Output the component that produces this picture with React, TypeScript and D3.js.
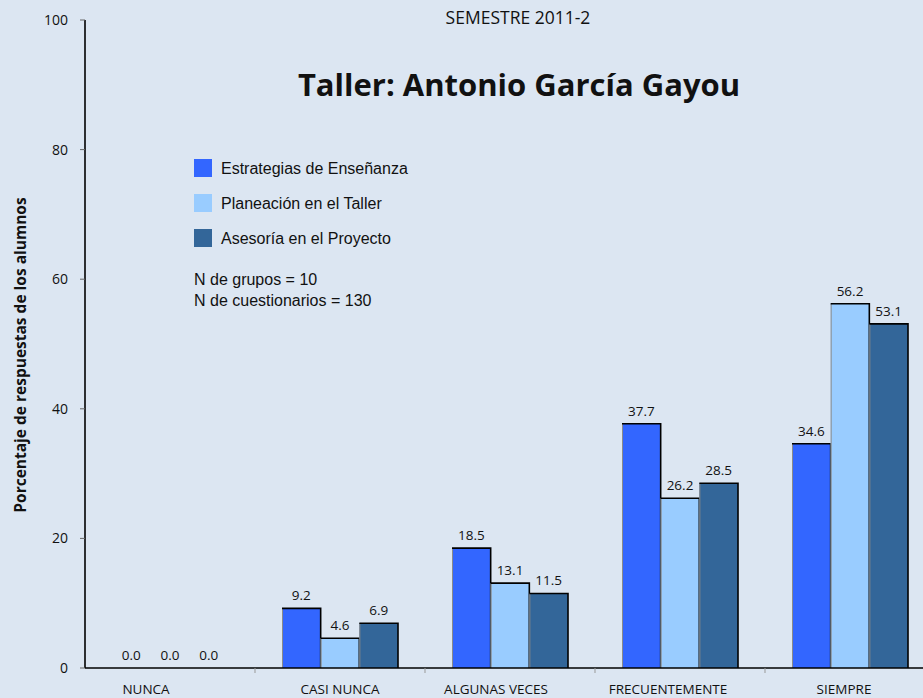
import React, { useEffect, useRef } from "react";
import * as d3 from "d3";

const categories = ["NUNCA", "CASI NUNCA", "ALGUNAS VECES", "FRECUENTEMENTE", "SIEMPRE"];
const seriesNames = ["Estrategias de Enseñanza", "Planeación en el Taller", "Asesoría en el Proyecto"];
const estrategias = [0.0, 9.2, 18.5, 37.7, 34.6];
const planeacion = [0.0, 4.6, 13.1, 26.2, 56.2];
const asesoria = [0.0, 6.9, 11.5, 28.5, 53.1];
const colors = ["#3366ff", "#99ccff", "#336699"];
const yTicks = [0, 20, 40, 60, 80, 100];

const W = 923, H = 698;

export default function App() {
  const ref = useRef<SVGSVGElement>(null);

  useEffect(() => {
    const svg = d3.select(ref.current);
    svg.selectAll("*").remove();
    const series = [estrategias, planeacion, asesoria];
    const margin = { left: 85, top: 20, bottom: 30 };

    svg.append("rect").attr("width", W).attr("height", H).attr("fill", "#dce6f2");

    const x = d3.scaleBand().domain(categories).range([margin.left, margin.left + 850]);
    const inner = d3.scaleBand().domain(["0", "1", "2"]).range([27, 143]);
    const y = d3.scaleLinear().domain([0, 100]).range([H - margin.bottom, margin.top]);

    // bars
    categories.forEach((c, ci) => {
      series.forEach((s, si) => {
        const v = s[ci];
        const x0 = x(c)! + inner(String(si))!;
        const bw = inner.bandwidth();
        const yt = y(v), yb = y(0);
        if (v > 0) {
          svg.append("rect").attr("x", x0).attr("y", yt).attr("width", bw).attr("height", yb - yt)
            .attr("fill", colors[si]);
          svg.append("line").attr("x1", x0 + 0.5).attr("x2", x0 + 0.5).attr("y1", yt).attr("y2", yb)
            .attr("stroke", "#8a8a8a").attr("stroke-width", 1);
          svg.append("path").attr("d", `M${x0},${yt}H${x0 + bw}V${yb}`)
            .attr("fill", "none").attr("stroke", "#000").attr("stroke-width", 1.6);
        }
        svg.append("text").attr("x", x0 + bw / 2).attr("y", yt - 8)
          .attr("text-anchor", "middle").attr("font-family", "Open Sans").attr("font-size", 13.5)
          .attr("fill", "#111").text(v.toFixed(1));
      });
    });

    // y axis
    svg.append("line").attr("x1", margin.left).attr("x2", margin.left)
      .attr("y1", y(100)).attr("y2", y(0)).attr("stroke", "#000").attr("stroke-width", 1.6);
    yTicks.forEach(t => {
      svg.append("line").attr("x1", margin.left - 5).attr("x2", margin.left)
        .attr("y1", y(t)).attr("y2", y(t)).attr("stroke", "#666").attr("stroke-width", 1);
      svg.append("text").attr("x", margin.left - 17).attr("y", y(t) + 5)
        .attr("text-anchor", "end").attr("font-family", "Open Sans").attr("font-size", 14)
        .attr("fill", "#111").text(t);
    });

    // x axis
    svg.append("line").attr("x1", margin.left).attr("x2", W)
      .attr("y1", y(0)).attr("y2", y(0)).attr("stroke", "#000").attr("stroke-width", 1.6);
    categories.forEach((c, i) => {
      svg.append("line").attr("x1", x(c)! + x.bandwidth()).attr("x2", x(c)! + x.bandwidth())
        .attr("y1", y(0)).attr("y2", y(0) + 5).attr("stroke", "#999");
      const offs = [-24, 0, -14, -12, -6];
      svg.append("text").attr("x", x(c)! + x.bandwidth() / 2 + offs[i]).attr("y", y(0) + 26)
        .attr("text-anchor", "middle").attr("font-family", "Open Sans").attr("font-size", 13.5)
        .attr("fill", "#111").text(c);
    });

    // y title
    svg.append("text").attr("transform", `translate(26,${(y(0) + y(100)) / 2 + 11}) rotate(-90)`)
      .attr("text-anchor", "middle").attr("font-family", "Open Sans").attr("font-weight", "bold")
      .attr("font-size", 15.5).attr("fill", "#111").text("Porcentaje de respuestas de los alumnos");

    // titles
    svg.append("text").attr("x", 518).attr("y", 24).attr("text-anchor", "middle")
      .attr("font-family", "Open Sans").attr("font-size", 17.5).attr("fill", "#111").text("SEMESTRE 2011-2");
    svg.append("text").attr("x", 519).attr("y", 96).attr("text-anchor", "middle")
      .attr("font-family", "Open Sans").attr("font-weight", "bold").attr("font-size", 31)
      .attr("fill", "#111").text("Taller: Antonio García Gayou");

    // legend
    seriesNames.forEach((n, i) => {
      const ly = 159 + i * 35;
      svg.append("rect").attr("x", 194).attr("y", ly).attr("width", 18).attr("height", 18).attr("fill", colors[i]);
      svg.append("text").attr("x", 221).attr("y", ly + 15).attr("font-family", "Liberation Sans")
        .attr("font-size", 16).attr("fill", "#111").text(n);
    });
    svg.append("text").attr("x", 194).attr("y", 285).attr("font-family", "Liberation Sans")
      .attr("font-size", 16).attr("fill", "#111").text("N de grupos = 10");
    svg.append("text").attr("x", 194).attr("y", 306).attr("font-family", "Liberation Sans")
      .attr("font-size", 16).attr("fill", "#111").text("N de cuestionarios = 130");
  }, []);

  return <svg ref={ref} width={W} height={H} style={{ position: "absolute", left: 0, top: 0 }} />;
}
